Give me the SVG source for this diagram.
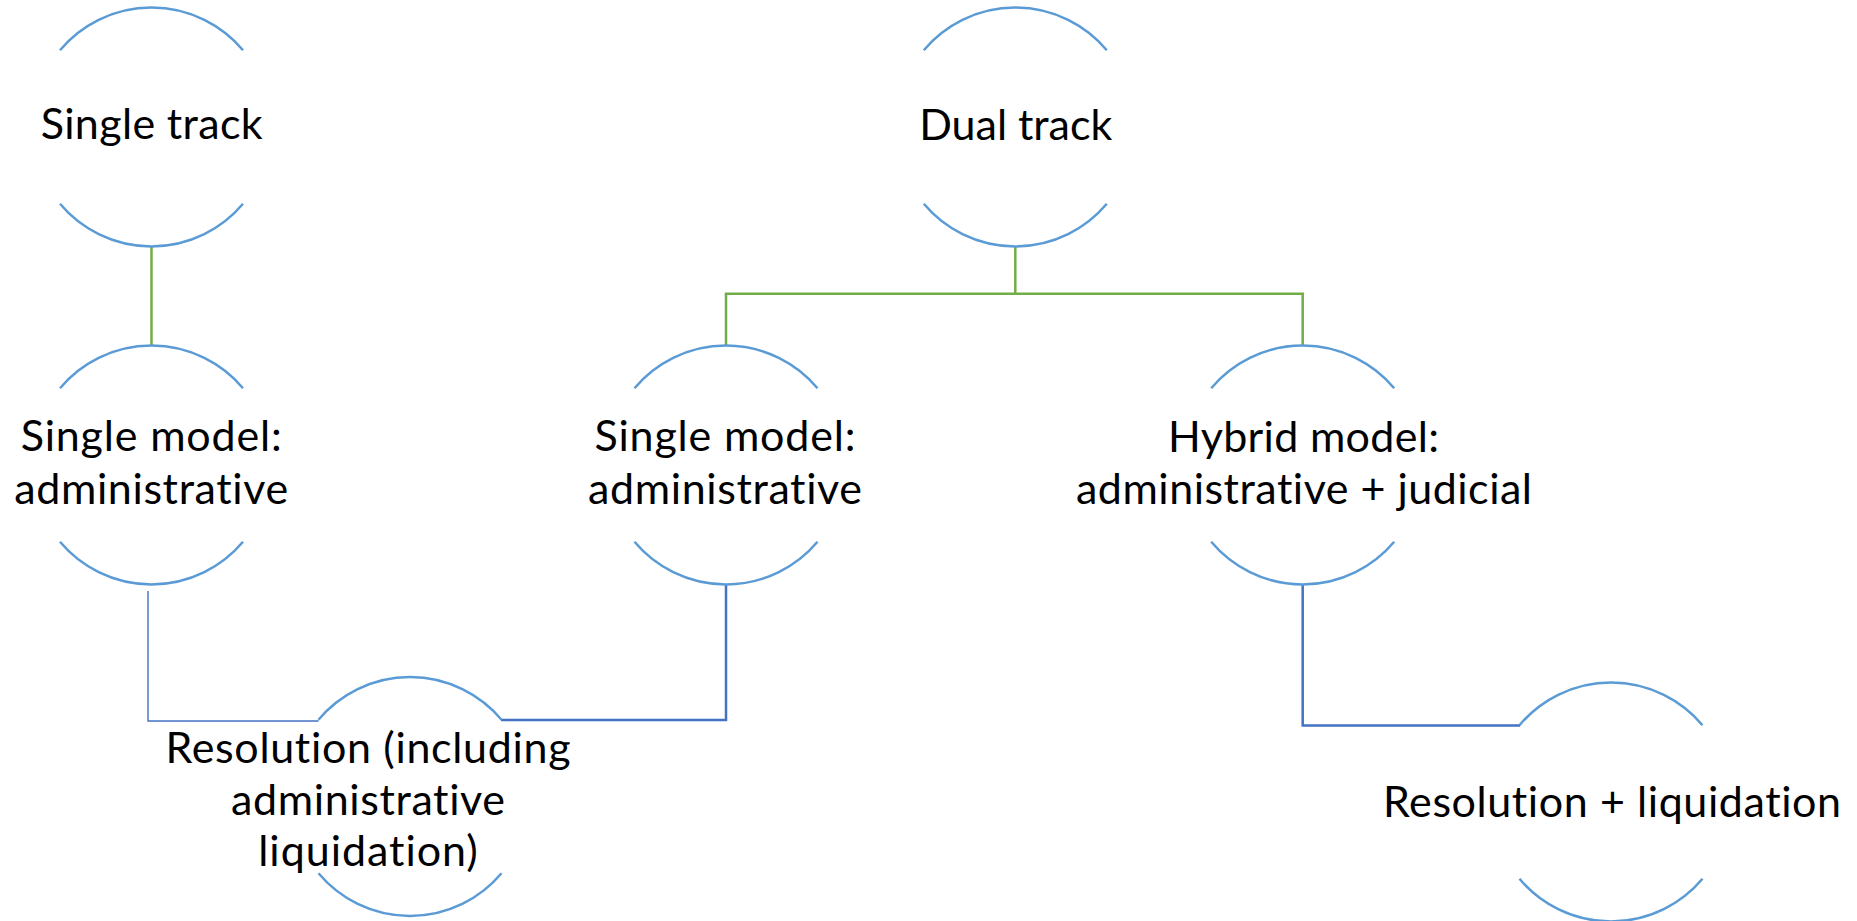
<svg xmlns="http://www.w3.org/2000/svg" xmlns:xlink="http://www.w3.org/1999/xlink" width="1857" height="921" viewBox="0 0 1857 921">
<style>
.arc{fill:none;stroke:#5B9BD5;stroke-width:2.5}
.lbl{font-family:Lato,"Open Sans","Liberation Sans",sans-serif;font-size:43px;fill:#000;text-anchor:middle;font-variant-ligatures:none;font-feature-settings:"liga" 0}
.green{fill:none;stroke:#70AD47;stroke-width:2.5}
.blue{fill:none;stroke:#4472C4;stroke-width:2.5}
.thin{fill:none;stroke:#4472C4;stroke-width:1.4}
</style>
<defs>
<g id="ring">
<path class="arc" d="M-91.5,-76.8 A119.5,119.5 0 0 1 91.5,-76.8"/>
<path class="arc" d="M-91.5,76.8 A119.5,119.5 0 0 0 91.5,76.8"/>
</g>
</defs>
<rect width="1857" height="921" fill="#fff"/>
<g id="connectors">
<path class="green" d="M151.5,246.5 V345.5"/>
<path class="green" d="M1015.3,246.5 V293.7"/>
<path class="green" d="M726,345.5 V293.7 H1302.7 V345.5"/>
<path class="thin" d="M148,591 V721 H318.6"/>
<path class="blue" d="M726,584.5 V720 H501"/>
<path class="blue" d="M1302.7,584.5 V725.5 H1520"/>
</g>
<g id="single-track">
<use xlink:href="#ring" x="151.5" y="127"/>
<text class="lbl" x="151.7" y="139.3" textLength="222">Single track</text>
</g>
<g id="dual-track">
<use xlink:href="#ring" x="1015.3" y="127"/>
<text class="lbl" x="1015.8" y="140" textLength="193">Dual track</text>
</g>
<g id="single-model-left">
<use xlink:href="#ring" x="151.5" y="465"/>
<text class="lbl" x="151.2" y="451" textLength="261">Single model:</text>
<text class="lbl" x="151.2" y="503.5" textLength="274">administrative</text>
</g>
<g id="single-model-mid">
<use xlink:href="#ring" x="726" y="465"/>
<text class="lbl" x="725" y="451" textLength="261">Single model:</text>
<text class="lbl" x="725" y="503.5" textLength="274">administrative</text>
</g>
<g id="hybrid-model">
<use xlink:href="#ring" x="1302.7" y="465"/>
<text class="lbl" x="1303.5" y="451.5" textLength="271">Hybrid model:</text>
<text class="lbl" x="1304" y="503.5" textLength="456">administrative + judicial</text>
</g>
<g id="resolution-incl">
<use xlink:href="#ring" x="410" y="796.5"/>
<text class="lbl" x="368" y="763.3" textLength="405">Resolution (including</text>
<text class="lbl" x="368" y="815" textLength="274">administrative</text>
<text class="lbl" x="368" y="866" textLength="219.5">liquidation)</text>
</g>
<g id="resolution-liquidation">
<use xlink:href="#ring" x="1611" y="802"/>
<text class="lbl" x="1612" y="816.5" textLength="458">Resolution + liquidation</text>
</g>
</svg>
